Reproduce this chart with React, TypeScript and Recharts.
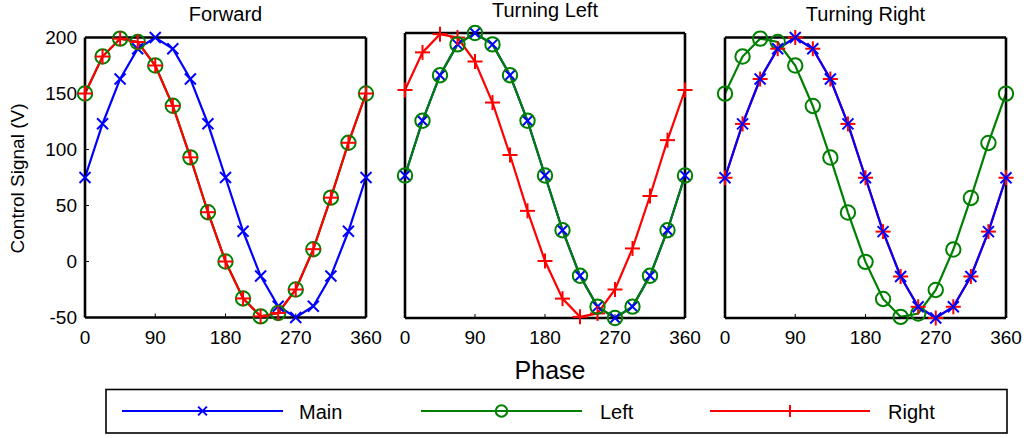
import React from "react";
import { LineChart, Line, XAxis, YAxis } from "recharts";

// phase samples shared by every panel
const phase = [0, 22.5, 45, 67.5, 90, 112.5, 135, 157.5, 180, 202.5, 225, 247.5, 270, 292.5, 315, 337.5, 360];

// the two curves
const baseWave = [75, 123, 163, 190, 200, 190, 163, 123, 75, 27, -13, -40, -50, -40, -13, 27, 75];
const leadWave = [150, 183, 199, 196, 175, 139, 93, 44, 0, -33, -49, -46, -25, 11, 57, 106, 150];

const forwardMain = baseWave;
const forwardLeft = leadWave;
const forwardRight = leadWave;

const turnLeftMain = baseWave;
const turnLeftLeft = baseWave;
const turnLeftRight = leadWave;

const turnRightMain = baseWave;
const turnRightLeft = leadWave;
const turnRightRight = baseWave;

const xTicks = [0, 90, 180, 270, 360];
const yTicks = [-50, 0, 50, 100, 150, 200];
const seriesNames = ["Main", "Left", "Right"];

const FONT = "'Liberation Sans', Arial, Helvetica, sans-serif";
const COLORS: Record<string, string> = { Main: "#0000ff", Left: "#008000", Right: "#ff0000" };

type Key = "Main" | "Left" | "Right";

const Marker = ({ kind, cx, cy, scale = 1 }: { kind: Key; cx: number; cy: number; scale?: number }) => {
  const c = COLORS[kind];
  if (kind === "Main") {
    const s = 5.5 * scale;
    return (
      <g stroke={c} strokeWidth={2}>
        <line x1={cx - s} y1={cy - s} x2={cx + s} y2={cy + s} />
        <line x1={cx - s} y1={cy + s} x2={cx + s} y2={cy - s} />
      </g>
    );
  }
  if (kind === "Left") {
    return <circle cx={cx} cy={cy} r={7.2 * scale} fill="none" stroke={c} strokeWidth={2} />;
  }
  const s = 7.5 * scale;
  return (
    <g stroke={c} strokeWidth={2}>
      <line x1={cx - s} y1={cy} x2={cx + s} y2={cy} />
      <line x1={cx} y1={cy - s} x2={cx} y2={cy + s} />
    </g>
  );
};

const dotFor = (kind: Key) => (p: any) => (
  <Marker key={`${kind}-${p.index}`} kind={kind} cx={p.cx} cy={p.cy} />
);

interface Panel {
  title: string;
  series: Record<Key, number[]>;
  order: Key[];
  box: { x: number; y: number; w: number; h: number };
  yLabels: boolean;
}

const panels: Panel[] = [
  {
    title: "Forward",
    series: { Main: forwardMain, Left: forwardLeft, Right: forwardRight },
    order: ["Main", "Left", "Right"],
    box: { x: 85, y: 37.5, w: 281, h: 280 },
    yLabels: true,
  },
  {
    title: "Turning Left",
    series: { Main: turnLeftMain, Left: turnLeftLeft, Right: turnLeftRight },
    order: ["Main", "Right", "Left"],
    box: { x: 405, y: 33, w: 280, h: 285 },
    yLabels: false,
  },
  {
    title: "Turning Right",
    series: { Main: turnRightMain, Left: turnRightLeft, Right: turnRightRight },
    order: ["Left", "Right", "Main"],
    box: { x: 725, y: 37.5, w: 281, h: 280.5 },
    yLabels: false,
  },
];

const CHART_H = 360;
const axisLine = { stroke: "#000", strokeWidth: 2.6 };
const tickLine = { stroke: "#000", strokeWidth: 1 };
const tickFont = { fontSize: 19, fill: "#000", fontFamily: FONT };

const PanelChart = ({ panel }: { panel: Panel }) => {
  const { box } = panel;
  const leftW = 85;
  const rightPad = 20;
  const bottomH = 40;
  const data = phase.map((p, i) => ({
    phase: p,
    Main: panel.series.Main[i],
    Left: panel.series.Left[i],
    Right: panel.series.Right[i],
  }));
  return (
    <div style={{ position: "absolute", left: box.x - leftW, top: 0 }}>
      <LineChart
        width={leftW + box.w + 1 + rightPad}
        height={CHART_H}
        data={data}
        style={{ overflow: "visible" }}
        margin={{ top: box.y - 1, right: rightPad, left: 0, bottom: CHART_H - box.y - box.h - bottomH }}
      >
        <XAxis
          xAxisId="b"
          dataKey="phase"
          type="number"
          domain={[0, 360]}
          ticks={xTicks}
          interval={0}
          height={bottomH}
          axisLine={axisLine}
          tickLine={tickLine}
          tickSize={-4}
          tickMargin={17}
          tick={tickFont}
        />
        <XAxis
          xAxisId="t"
          orientation="top"
          dataKey="phase"
          type="number"
          domain={[0, 360]}
          ticks={xTicks}
          interval={0}
          height={1}
          axisLine={axisLine}
          tickLine={tickLine}
          tickSize={-4}
          tick={false}
        />
        <YAxis
          yAxisId="l"
          type="number"
          domain={[-50, 200]}
          ticks={yTicks}
          interval={0}
          width={leftW}
          axisLine={axisLine}
          tickLine={tickLine}
          tickSize={-4}
          tickMargin={12}
          tick={panel.yLabels ? tickFont : false}
        />
        <YAxis
          yAxisId="r"
          orientation="right"
          type="number"
          domain={[-50, 200]}
          ticks={yTicks}
          interval={0}
          width={1}
          axisLine={axisLine}
          tickLine={tickLine}
          tickSize={-4}
          tick={false}
        />
        {panel.order.map((k) => (
          <Line
            key={k}
            xAxisId="b"
            yAxisId="l"
            dataKey={k}
            type="linear"
            stroke={COLORS[k]}
            strokeWidth={2.2}
            dot={dotFor(k)}
            activeDot={false}
            isAnimationActive={false}
          />
        ))}
      </LineChart>
    </div>
  );
};

const legendItems = [
  { line: [122, 283], text: 299 },
  { line: [421, 582], text: 600 },
  { line: [710, 870], text: 888 },
];

const Overlay = () => (
  <svg
    width={1026}
    height={438}
    style={{ position: "absolute", left: 0, top: 0, pointerEvents: "none" }}
    fontFamily={FONT}
  >
    {panels.map((p) => (
      <text key={p.title} x={p.box.x + p.box.w / 2} y={p.box.y - 16.5} fontSize={20} textAnchor="middle" fill="#000">
        {p.title}
      </text>
    ))}
    <text x={550} y={379} fontSize={25} textAnchor="middle" fill="#000">
      Phase
    </text>
    <text x={24} y={178.5} fontSize={19} textAnchor="middle" fill="#000" transform="rotate(-90 24 178.5)">
      Control Signal (V)
    </text>
    <rect x={106} y={389.5} width={901} height={43.5} fill="#fff" stroke="#000" strokeWidth={1.6} />
    {seriesNames.map((name, i) => {
      const it = legendItems[i];
      const k = name as Key;
      return (
        <g key={name}>
          <line x1={it.line[0]} y1={411} x2={it.line[1]} y2={411} stroke={COLORS[k]} strokeWidth={2.2} />
          <Marker kind={k} cx={(it.line[0] + it.line[1]) / 2} cy={411} scale={0.8} />
          <text x={it.text} y={419} fontSize={20} fill="#000">
            {name}
          </text>
        </g>
      );
    })}
  </svg>
);

export default function App() {
  return (
    <div style={{ position: "absolute", left: 0, top: 0, width: 1026, height: 438, background: "#fff" }}>
      {panels.map((p) => (
        <PanelChart key={p.title} panel={p} />
      ))}
      <Overlay />
    </div>
  );
}
